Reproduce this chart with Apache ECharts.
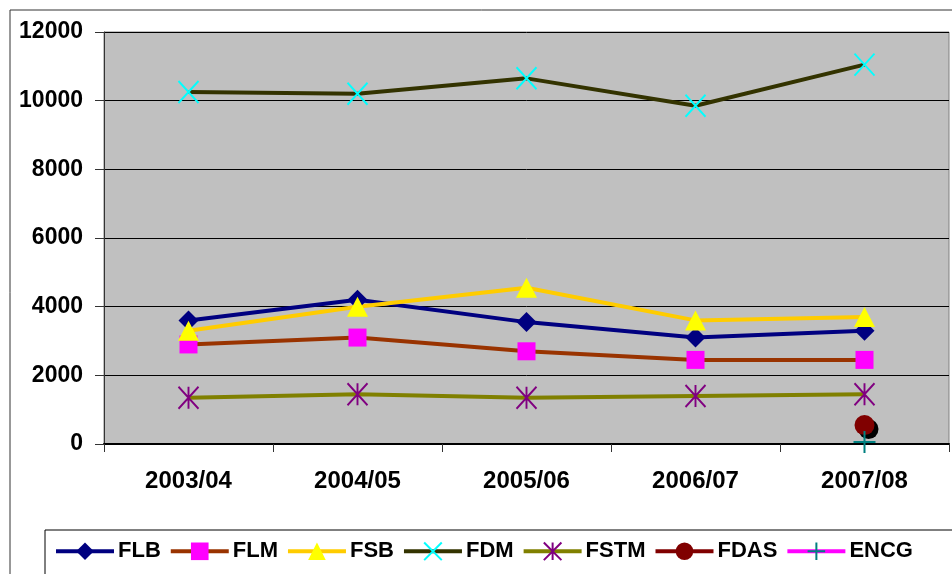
<!DOCTYPE html>
<html>
<head>
<meta charset="utf-8">
<script src="https://cdn.jsdelivr.net/npm/echarts@6/dist/echarts.min.js"></script>
<style>
  html, body { margin: 0; padding: 0; background: #fff; }
  #chart { width: 952px; height: 574px; }
</style>
</head>
<body>
<div id="chart"></div>
<script>
const years = ['2003/04', '2004/05', '2005/06', '2006/07', '2007/08'];
const yTicks = [0, 2000, 4000, 6000, 8000, 10000, 12000];

const flb = [3600, 4200, 3550, 3100, 3300];
const flm = [2900, 3100, 2700, 2450, 2450];
const fsb = [3300, 4000, 4550, 3600, 3700];
const fdm = [10250, 10200, 10650, 9850, 11050];
const fstm = [1350, 1450, 1350, 1400, 1450];
const fdas = [null, null, null, null, 550];
const encg = [null, null, null, null, 0];

const FONT = 'Arial, "Liberation Sans", sans-serif';

// custom marker shapes (stroked only)
const crossX = 'path://M0,0L20,22M20,0L0,22';
const star = 'path://M0,0L20,22M20,0L0,22M10,0L10,22';
const plus = 'path://M0,11L22,11M11,0L11,22';

const mkSeries = (name, data, lineColor, symbol, size, fill, stroke, extra) => ({
  name,
  type: 'line',
  data,
  symbol,
  symbolSize: size,
  showAllSymbol: true,
  connectNulls: false,
  clip: false,
  z: 5,
  lineStyle: { color: lineColor, width: 4 },
  itemStyle: Object.assign({
    color: fill,
    borderColor: stroke || fill,
    borderWidth: stroke ? 2 : 0,
  }, extra || {}),
  emphasis: { disabled: true },
});

const chart = echarts.init(document.getElementById('chart'));

const encgSeries = mkSeries('ENCG', encg, '#FF00FF', plus, [22, 22], 'none', '#008080');
encgSeries.symbolOffset = [0, -2];

chart.setOption({
  animation: false,
  backgroundColor: '#fff',
  graphic: [{
    type: 'rect',
    shape: { x: 10, y: 10, width: 1000, height: 700 },
    style: { fill: 'none', stroke: '#333', lineWidth: 1 },
    silent: true,
    z: -1,
  }],
  grid: {
    left: 104,
    right: 3,
    top: 32,
    bottom: 130,
    show: true,
    backgroundColor: '#C0C0C0',
    borderColor: '#808080',
    borderWidth: 1,
  },
  legend: {
    left: 45,
    top: 530,
    width: 900,
    padding: [10, 60, 30, 9],
    itemWidth: 58,
    itemHeight: 22,
    itemGap: 8,
    borderColor: '#000',
    borderWidth: 1,
    backgroundColor: '#fff',
    lineStyle: { width: 4 },
    textStyle: { fontFamily: FONT, fontWeight: 'bold', fontSize: 22, color: '#000', padding: [0, 0, 0, -1] },
    data: ['FLB', 'FLM', 'FSB', 'FDM', 'FSTM', 'FDAS', 'ENCG'],
  },
  xAxis: {
    type: 'category',
    data: years,
    boundaryGap: true,
    axisLine: { lineStyle: { color: '#000', width: 2 } },
    axisTick: { show: true, length: 8, lineStyle: { color: '#333' } },
    axisLabel: { margin: 25, fontFamily: FONT, fontWeight: 'bold', fontSize: 24, color: '#000' },
  },
  yAxis: {
    type: 'value',
    min: yTicks[0],
    max: yTicks[yTicks.length - 1],
    interval: 2000,
    axisLine: { show: true, lineStyle: { color: '#333', width: 1 } },
    axisTick: { show: true, length: 9, lineStyle: { color: '#333' } },
    splitLine: { show: true, lineStyle: { color: '#000', width: 1 } },
    axisLabel: {
      margin: 21, fontFamily: FONT, fontWeight: 'bold', fontSize: 23, color: '#000',
      formatter: (v) => String(v),
    },
  },
  series: [
    mkSeries('FLB', flb, '#000080', 'diamond', [20, 20], '#000080'),
    mkSeries('FLM', flm, '#993300', 'rect', [18, 18], '#FF00FF'),
    mkSeries('FSB', fsb, '#FFCC00', 'triangle', [21, 20], '#FFFF00'),
    mkSeries('FDM', fdm, '#333300', crossX, [20, 22], 'none', '#00FFFF'),
    mkSeries('FSTM', fstm, '#808000', star, [20, 22], 'none', '#800080'),
    mkSeries('FDAS', fdas, '#800000', 'circle', 20, '#800000', null,
      { shadowColor: '#000', shadowOffsetX: 4, shadowOffsetY: 4, shadowBlur: 0 }),
    encgSeries,
  ],
});
</script>
</body>
</html>
